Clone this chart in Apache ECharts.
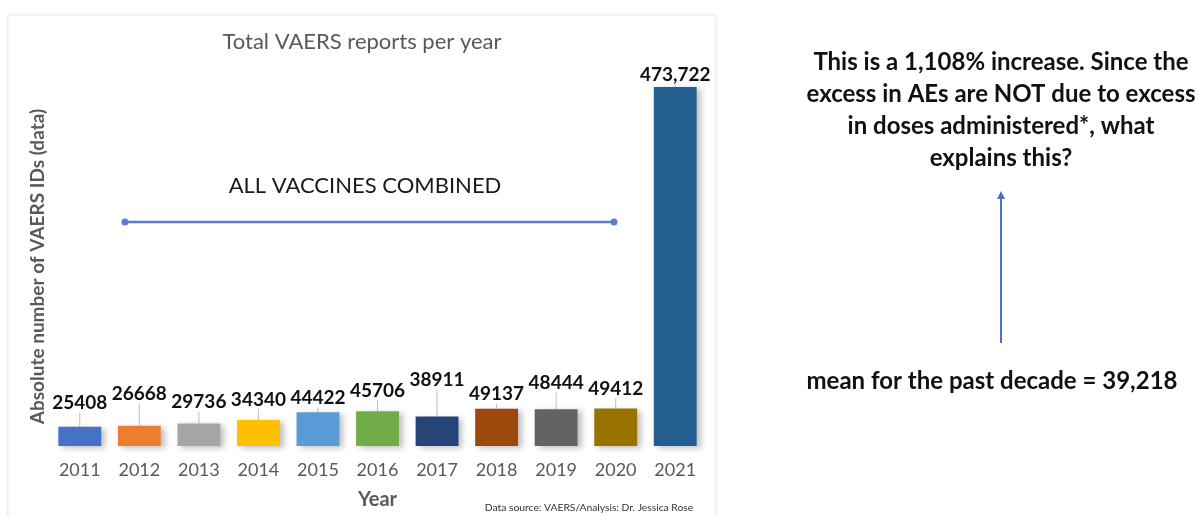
<!DOCTYPE html>
<html>
<head>
<meta charset="utf-8">
<script src="https://cdn.jsdelivr.net/npm/echarts@6/dist/echarts.min.js"></script>
<style>
html,body{margin:0;padding:0;background:#ffffff;}
#chart{width:1198px;height:516px;}
</style>
</head>
<body>
<div id="chart"></div>
<script>
// ---- data ----
const years = ['2011','2012','2013','2014','2015','2016','2017','2018','2019','2020','2021'];
const reports = [25408, 26668, 29736, 34340, 44422, 45706, 38911, 49137, 48444, 49412, 473722];
const valueLabels = ['25408','26668','29736','34340','44422','45706','38911','49137','48444','49412','473,722'];
const chartTitle = 'Total VAERS reports per year';
const yName = 'Absolute number of VAERS IDs (data)';
const xName = 'Year';
const groupNote = 'ALL VACCINES COMBINED';
const sourceNote = 'Data source: VAERS/Analysis: Dr. Jessica Rose';
const sideText = ['This is a 1,108% increase. Since the', 'excess in AEs are NOT due to excess', 'in doses administered*, what', 'explains this?'];
const meanText = 'mean for the past decade = 39,218';

// ---- styles ----
const barColors = ['#4472c4','#ed7d31','#a5a5a5','#ffc000','#5b9bd5','#70ad47','#264478','#9e480e','#636363','#997300','#255e91'];
const labelDy = [-9, -17, -7, -6, 0, -6, -22, 0, -12, -5, 2];
const FONT = 'Lato, "Open Sans", sans-serif';

const chart = echarts.init(document.getElementById('chart'), null, {renderer: 'canvas'});

const option = {
  backgroundColor: '#ffffff',
  animation: false,
  grid: {left: 50, right: 493, top: 87, bottom: 70, containLabel: false},
  xAxis: {
    type: 'category',
    data: years,
    axisLine: {show: false},
    axisTick: {show: false},
    axisLabel: {color: '#595959', fontFamily: FONT, fontSize: 18, margin: 15},
    name: xName,
    nameLocation: 'middle',
    nameGap: 44,
    nameTextStyle: {color: '#595959', fontFamily: FONT, fontSize: 20, fontWeight: 'bold'}
  },
  yAxis: {
    type: 'value',
    min: 0,
    max: 'dataMax',
    axisLine: {show: false},
    axisTick: {show: false},
    axisLabel: {show: false},
    splitLine: {show: false},
    name: yName,
    nameLocation: 'middle',
    nameGap: 3,
    nameTextStyle: {color: '#595959', fontFamily: FONT, fontSize: 19, fontWeight: 'bold'}
  },
  series: [{
    type: 'bar',
    barWidth: '72%',
    data: reports.map((v, i) => ({
      value: v,
      itemStyle: {color: barColors[i]}
    })),
    itemStyle: {
      shadowColor: 'rgba(0,0,0,0.25)',
      shadowBlur: 6,
      shadowOffsetX: 4,
      shadowOffsetY: 2
    },
    label: {
      show: true,
      position: 'top',
      distance: 5,
      formatter: p => valueLabels[p.dataIndex],
      color: '#111111',
      fontFamily: FONT,
      fontWeight: 'bold',
      fontSize: 19
    },
    labelLine: {show: true, lineStyle: {color: '#bfbfbf', width: 1}},
    labelLayout: p => ({dy: labelDy[p.dataIndex]})
  }],
  graphic: [
    {type: 'rect', z: -10, silent: true, shape: {x: 8, y: 15, width: 708, height: 520},
     style: {fill: '#ffffff', stroke: '#ececec', lineWidth: 1, shadowColor: 'rgba(0,0,0,0.06)', shadowBlur: 4}},
    {type: 'text', style: {x: 362, y: 42, text: chartTitle, textAlign: 'center', textVerticalAlign: 'middle',
      fill: '#595959', font: '22px ' + FONT}},
    {type: 'text', style: {x: 365, y: 186, text: groupNote, textAlign: 'center', textVerticalAlign: 'middle',
      fill: '#1a1a1a', font: '22px ' + FONT}},
    {type: 'line', shape: {x1: 125, y1: 222, x2: 614, y2: 222}, style: {stroke: '#5a7dc9', lineWidth: 2.5}},
    {type: 'circle', shape: {cx: 125, cy: 222, r: 3.5}, style: {fill: '#5a7dc9'}},
    {type: 'circle', shape: {cx: 614, cy: 222, r: 3.5}, style: {fill: '#5a7dc9'}},
    {type: 'text', style: {x: 589, y: 508, text: sourceNote, textAlign: 'center', textVerticalAlign: 'middle',
      fill: '#333333', font: '10.3px ' + FONT}},
    ...sideText.map((t, i) => ({type: 'text', style: {x: 1001, y: 62 + i * 32, text: t, textAlign: 'center',
      textVerticalAlign: 'middle', fill: '#111111', font: 'bold 24px ' + FONT}})),
    {type: 'line', shape: {x1: 1001, y1: 343, x2: 1001, y2: 198}, style: {stroke: '#4a72c0', lineWidth: 2}},
    {type: 'polygon', shape: {points: [[1001, 191], [997, 199], [1005, 199]]}, style: {fill: '#4a72c0'}},
    {type: 'text', style: {x: 992, y: 381, text: meanText, textAlign: 'center', textVerticalAlign: 'middle',
      fill: '#111111', font: 'bold 24px ' + FONT}}
  ]
};
chart.setOption(option);
</script>
</body>
</html>
